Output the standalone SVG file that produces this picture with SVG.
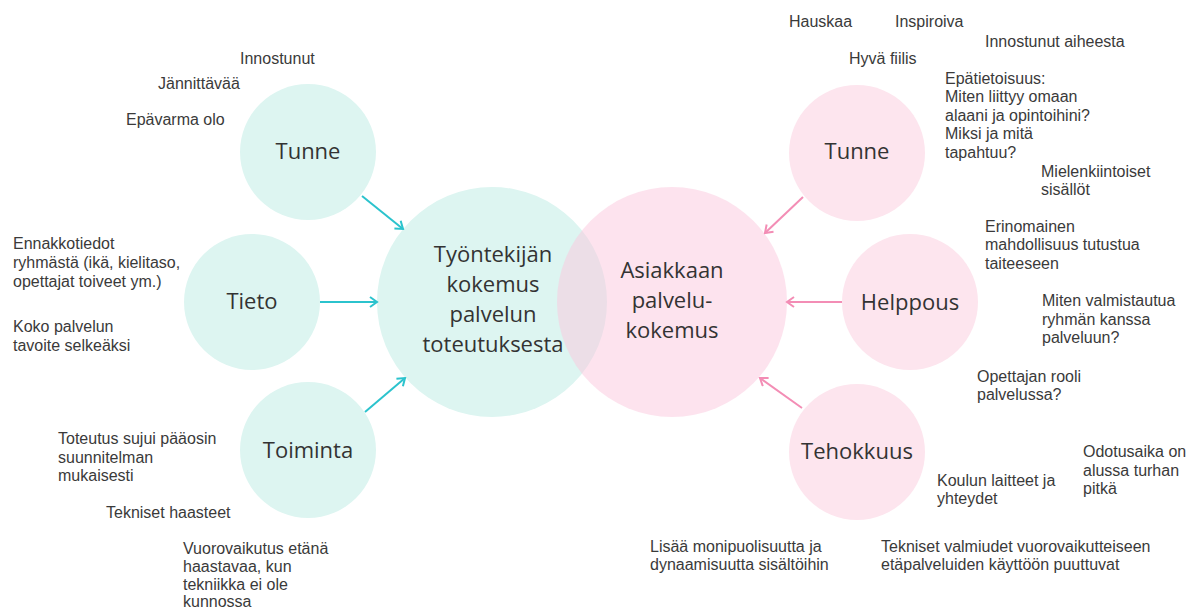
<svg xmlns="http://www.w3.org/2000/svg" width="1189" height="610" viewBox="0 0 1189 610">
  <defs>
    <marker id="headTeal" viewBox="0 0 12 12" refX="10" refY="6" markerWidth="12" markerHeight="12" markerUnits="userSpaceOnUse" orient="auto">
      <path d="M3,1 L10,6 L3,11" fill="none" stroke="#2bc3cd" stroke-width="2"/>
    </marker>
    <marker id="headPink" viewBox="0 0 12 12" refX="10" refY="6" markerWidth="12" markerHeight="12" markerUnits="userSpaceOnUse" orient="auto">
      <path d="M3,1 L10,6 L3,11" fill="none" stroke="#f38db5" stroke-width="2"/>
    </marker>
  </defs>
  <style>
    .teal { fill: #ddf5f1; }
    .pink { fill: #fbc8dd; fill-opacity: 0.5; }
    .pinkSmall { fill: #fde5ee; }
    .label { font-family: "Open Sans", "Noto Sans", sans-serif; font-size: 22px; fill: #333333; text-anchor: middle; }
    .note { font-family: "Liberation Sans", Arial, sans-serif; font-size: 16px; fill: #3a3a3a; }
    .edgeTeal { stroke: #2bc3cd; stroke-width: 2; fill: none; marker-end: url(#headTeal); }
    .edgePink { stroke: #f38db5; stroke-width: 2; fill: none; marker-end: url(#headPink); }
  </style>
  <rect width="1189" height="610" fill="#ffffff"/>

  <!-- employee side -->
  <g id="employee-experience">
    <circle class="teal" cx="492" cy="302" r="115"/>
    <text class="label" x="493" y="262">Työntekijän</text>
    <text class="label" x="493" y="292">kokemus</text>
    <text class="label" x="493" y="322">palvelun</text>
    <text class="label" x="493" y="352">toteutuksesta</text>
  </g>

  <!-- customer side (translucent so the overlap blends) -->
  <g id="customer-experience">
    <circle class="pink" cx="672" cy="302" r="115"/>
    <text class="label" x="672" y="278">Asiakkaan</text>
    <text class="label" x="672" y="308">palvelu-</text>
    <text class="label" x="672" y="338">kokemus</text>
  </g>

  <g id="emp-tunne">
    <circle class="teal" cx="308" cy="152" r="68"/>
    <text class="label" x="308" y="159">Tunne</text>
  </g>
  <g id="emp-tieto">
    <circle class="teal" cx="252" cy="302" r="68"/>
    <text class="label" x="252" y="309">Tieto</text>
  </g>
  <g id="emp-toiminta">
    <circle class="teal" cx="308" cy="450" r="68"/>
    <text class="label" x="308" y="458">Toiminta</text>
  </g>

  <g id="cust-tunne">
    <circle class="pinkSmall" cx="857" cy="153" r="68"/>
    <text class="label" x="857" y="159">Tunne</text>
  </g>
  <g id="cust-helppous">
    <circle class="pinkSmall" cx="910" cy="302" r="68"/>
    <text class="label" x="910" y="310">Helppous</text>
  </g>
  <g id="cust-tehokkuus">
    <circle class="pinkSmall" cx="857" cy="452" r="68"/>
    <text class="label" x="857" y="459">Tehokkuus</text>
  </g>

  <g id="connectors">
    <line class="edgeTeal" x1="362" y1="196" x2="403" y2="229"/>
    <line class="edgeTeal" x1="320" y1="302" x2="377" y2="302"/>
    <line class="edgeTeal" x1="365" y1="412" x2="405" y2="378"/>
    <line class="edgePink" x1="803" y1="197" x2="765" y2="233"/>
    <line class="edgePink" x1="842" y1="302" x2="787" y2="302"/>
    <line class="edgePink" x1="802" y1="408" x2="760" y2="378"/>
  </g>

  <!-- employee notes -->
  <g id="emp-notes" class="note">
    <text x="240" y="64">Innostunut</text>
    <text x="158" y="89">Jännittävää</text>
    <text x="126" y="125">Epävarma olo</text>
    <text x="13" y="249">Ennakkotiedot</text>
    <text x="13" y="268">ryhmästä (ikä, kielitaso,</text>
    <text x="13" y="287">opettajat toiveet ym.)</text>
    <text x="13" y="332">Koko palvelun</text>
    <text x="13" y="351">tavoite selkeäksi</text>
    <text x="58" y="444">Toteutus sujui pääosin</text>
    <text x="58" y="463">suunnitelman</text>
    <text x="58" y="481">mukaisesti</text>
    <text x="106" y="518">Tekniset haasteet</text>
    <text x="183" y="554">Vuorovaikutus etänä</text>
    <text x="183" y="572">haastavaa, kun</text>
    <text x="183" y="590">tekniikka ei ole</text>
    <text x="183" y="607">kunnossa</text>
  </g>

  <!-- customer notes -->
  <g id="cust-notes" class="note">
    <text x="789" y="27">Hauskaa</text>
    <text x="895" y="27">Inspiroiva</text>
    <text x="985" y="47">Innostunut aiheesta</text>
    <text x="849" y="64">Hyvä fiilis</text>
    <text x="945" y="84">Epätietoisuus:</text>
    <text x="945" y="102">Miten liittyy omaan</text>
    <text x="945" y="121">alaani ja opintoihini?</text>
    <text x="945" y="139">Miksi ja mitä</text>
    <text x="945" y="158">tapahtuu?</text>
    <text x="1041" y="177">Mielenkiintoiset</text>
    <text x="1041" y="195">sisällöt</text>
    <text x="985" y="232">Erinomainen</text>
    <text x="985" y="250">mahdollisuus tutustua</text>
    <text x="985" y="269">taiteeseen</text>
    <text x="1042" y="306">Miten valmistautua</text>
    <text x="1042" y="325">ryhmän kanssa</text>
    <text x="1042" y="343">palveluun?</text>
    <text x="977" y="382">Opettajan rooli</text>
    <text x="977" y="400">palvelussa?</text>
    <text x="1083" y="457">Odotusaika on</text>
    <text x="1083" y="476">alussa turhan</text>
    <text x="1083" y="494">pitkä</text>
    <text x="937" y="486">Koulun laitteet ja</text>
    <text x="937" y="504">yhteydet</text>
    <text x="650" y="552">Lisää monipuolisuutta ja</text>
    <text x="650" y="570">dynaamisuutta sisältöihin</text>
    <text x="881" y="552">Tekniset valmiudet vuorovaikutteiseen</text>
    <text x="881" y="570">etäpalveluiden käyttöön puuttuvat</text>
  </g>
</svg>
